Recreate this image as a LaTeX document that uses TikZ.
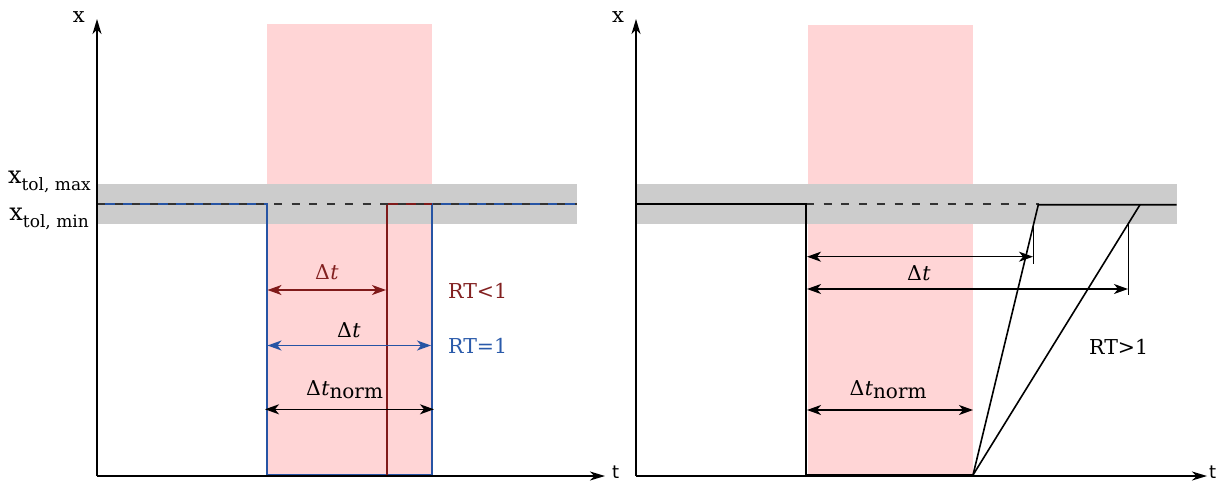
\documentclass[tikz,border=0pt]{standalone}
\usepackage{fontspec}
\setmainfont{DejaVu Serif}
\newfontfamily\tsans{DejaVu Sans}
\usetikzlibrary{arrows.meta}
\definecolor{pinkbg}{RGB}{255,213,214}
\definecolor{grayband}{RGB}{204,204,204}
\definecolor{sigblue}{RGB}{38,84,164}
\definecolor{sigred}{RGB}{128,26,26}
\definecolor{txtred}{RGB}{130,32,32}
\definecolor{txtblue}{RGB}{42,90,170}
\tikzset{
  axis/.style={line width=1.3pt,-{Stealth[length=15pt,width=9pt,inset=4.5pt]}},
  dim/.style={line width=1.5pt,{Stealth[length=14pt,width=10pt,inset=4pt]}-{Stealth[length=14pt,width=10pt,inset=4pt]}},
  sig/.style={line width=1.7pt,line join=miter},
  tolline/.style={line width=1.3pt,color=black!80,dash pattern=on 8pt off 9.7pt},
  lbl/.style={inner sep=0pt,anchor=base west},
  axlbl/.style={inner sep=0pt,anchor=base,font=\fontsize{21}{22}\selectfont},
  tlbl/.style={inner sep=0pt,anchor=base west,font=\tsans\fontsize{18}{19}\selectfont},
  dtfont/.style={font=\fontsize{20.5}{22}\selectfont},
  rtfont/.style={font=\fontsize{20.5}{22}\selectfont},
}
\newcommand{\dt}{Δ\kern0.3pt\textit{t}}
\newcommand{\dtnorm}{Δ\kern0.3pt\textit{t}\raisebox{-3pt}{\fontsize{20}{20}\selectfont norm}}
\newcommand{\xtol}[1]{x\raisebox{-7pt}{\fontsize{17}{17}\selectfont #1}}
\begin{document}
\begin{tikzpicture}[x=1pt,y=-1pt]
\useasboundingbox (0,0) rectangle (1222,482);
% ================= left panel =================
\coordinate (LO) at (97,476);
\coordinate (LY) at (97,19);
\coordinate (LX) at (605,476);
\fill[pinkbg] (267,24) rectangle (432,476);
\fill[grayband] (97,184) rectangle (577,224);
\draw[sig,sigblue] (97,204) -- (267,204) -- (267,475) -- (432,475) -- (432,204) -- (577,204);
\draw[sig,sigred] (387,475) -- (387,204) -- (432,204);
\draw[tolline] (97,204) -- (577,204);
\draw[axis] (LO) -- (LY);
\draw[axis] (LO) -- (LX);
\node[axlbl] (lxl) at (78.7,22) {x};
\node[tlbl] (ltl) at (612,478.5) {t};
\node[inner sep=0pt,anchor=base east,font=\fontsize{24}{24}\selectfont] (lmax) at (91,183.3) {\xtol{tol, max}};
\node[inner sep=0pt,anchor=base east,font=\fontsize{24}{24}\selectfont] (lmin) at (89,220) {\xtol{tol, min}};
% dimension arrows
\coordinate (r1a) at (267.5,290);
\coordinate (r1b) at (386,290);
\coordinate (b1a) at (267.5,345.5);
\coordinate (b1b) at (431,345.5);
\coordinate (n1a) at (265,409.3);
\coordinate (n1b) at (434,409.3);
\draw[dim,sigred] (r1a) -- (r1b);
\draw[dim,sigblue] (b1a) -- (b1b);
\draw[dim,black] (n1a) -- (n1b);
\node[lbl,dtfont,text=txtred] (ldtr) at (315,279.5) {\dt};
\node[lbl,dtfont,text=black] (ldtb) at (337,337) {\dt};
\node[lbl,dtfont,text=black] (ldtn) at (306,395) {\dtnorm};
\node[lbl,rtfont,text=txtred] (rtl) at (448,298) {RT<1};
\node[lbl,rtfont,text=txtblue] (rte) at (448,353) {RT=1};
% ================= right panel =================
\coordinate (RO) at (636,476);
\coordinate (RY) at (636,19);
\coordinate (RX) at (1207,476);
\fill[pinkbg] (808,25) rectangle (973,476);
\fill[grayband] (636,184) rectangle (1176.5,224);
\draw[tolline] (806,204) -- (1039,204);
\coordinate (s1) at (1038.3,204.7);
\coordinate (s2) at (1140,204.7);
\coordinate (sb) at (973,475);
\draw[sig,black,line width=1.6pt] (636,204) -- (806,204) -- (806,475) -- (sb) -- (s1) -- (1176.5,204.7);
\draw[black,line width=1.6pt] (sb) -- (s2);
\coordinate (k1t) at (1033.6,223.5);
\coordinate (k1b) at (1033.6,264);
\coordinate (k2t) at (1128.4,223.5);
\coordinate (k2b) at (1128.4,295);
\draw[black,line width=1.4pt] (k1t) -- (k1b);
\draw[black,line width=1.4pt] (k2t) -- (k2b);
\coordinate (d1a) at (807,256.7);
\coordinate (d1b) at (1033,256.7);
\coordinate (d2a) at (807,289);
\coordinate (d2b) at (1128,289);
\coordinate (d3a) at (807,410);
\coordinate (d3b) at (973,410);
\draw[dim] (d1a) -- (d1b);
\draw[dim] (d2a) -- (d2b);
\draw[dim] (d3a) -- (d3b);
\draw[axis] (RO) -- (RY);
\draw[axis] (RO) -- (RX);
\node[axlbl] (rxl) at (618,22) {x};
\node[tlbl] (rtlb) at (1209,478.5) {t};
\node[lbl,dtfont] (rdt) at (907,280.5) {\dt};
\node[lbl,dtfont] (rdtn) at (849.5,395) {\dtnorm};
\node[lbl,rtfont] (rtg) at (1089,354.5) {RT>1};
\end{tikzpicture}
\end{document}
